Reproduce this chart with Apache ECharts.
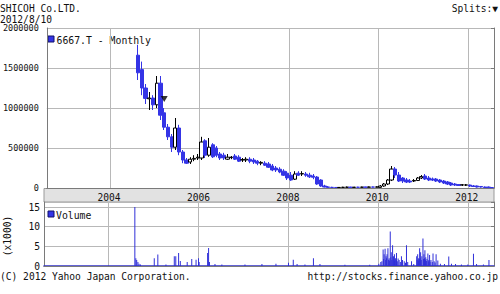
<!DOCTYPE html>
<html><head><meta charset="utf-8">
<script src="https://cdn.jsdelivr.net/npm/echarts@6/dist/echarts.min.js"></script>
<style>html,body{margin:0;padding:0;background:#fff}#c{width:500px;height:294px}</style>
</head><body><div id="c"></div>
<script>
const titleText = 'SHICOH Co.LTD.';
const dateText = '2012/8/10';
const splitsText = 'Splits:\u25BC';
const copyrightText = '(C) 2012 Yahoo Japan Corporation.';
const urlText = 'http://stocks.finance.yahoo.co.jp';
const seriesName = '6667.T - Monthly';
const volumeName = 'Volume';
const volumeUnit = '(x1000)';

const firstMonth = [2002, 8];
const monthCount = 120;
const candleStart = '2004-08';
const yearLabels = ['2004', '2006', '2008', '2010', '2012'];
const priceMax = 2000000, priceStep = 500000;
const volumeTicks = [0, 5, 10, 15];

const opens = [1660000,1480000,1250000,1115000,1125000,1040000,1310000,940000,760000,640000,510000,750000,
 450000,350000,325000,360000,375000,375000,590000,410000,540000,500000,425000,410000,
 360000,380000,400000,385000,350000,350000,360000,350000,335000,310000,310000,300000,
 275000,250000,235000,210000,185000,160000,110000,185000,175000,175000,160000,150000,
 137000,100000,25000,13000,8000,7000,6000,7500,9000,10000,8000,9500,
 9000,11000,10000,12000,11000,8000,25000,50000,100000,237000,162000,125000,
 100000,87000,87000,94000,125000,150000,125000,112000,112000,100000,87000,75000,
 62000,50000,43000,37000,37000,37000,25000,25000,19000,12000,12000,6000];
const closes = [1440000,1250000,1120000,1125000,1040000,1310000,910000,760000,640000,510000,750000,450000,
 350000,310000,360000,370000,385000,575000,410000,510000,390000,410000,375000,375000,
 385000,385000,360000,335000,355000,360000,335000,325000,310000,320000,285000,260000,
 225000,225000,200000,160000,125000,100000,175000,160000,180000,160000,140000,135000,
 50000,25000,12000,8000,7000,6000,7500,9000,10000,8000,9500,9000,
 11000,10000,12000,11000,13000,25000,50000,100000,237000,162000,87000,87000,
 75000,75000,94000,125000,143000,112000,100000,100000,87000,75000,62000,50000,
 37000,37000,31000,40000,38000,25000,19000,12000,12000,6000,5000,4000];
const lows = [1350000,1160000,1050000,975000,975000,1000000,850000,725000,600000,450000,475000,410000,
 310000,300000,300000,335000,350000,350000,375000,390000,375000,385000,350000,350000,
 350000,360000,350000,325000,325000,325000,310000,300000,285000,285000,275000,250000,
 210000,200000,185000,150000,100000,90000,100000,150000,150000,140000,125000,110000,
 40000,15000,8000,5000,4000,3500,4000,5000,6000,6000,6000,6000,
 7000,7000,8000,8000,8000,5000,15000,37000,87000,125000,75000,62000,
 62000,62000,75000,87000,112000,100000,87000,87000,75000,62000,50000,37000,
 25000,25000,25000,25000,25000,12000,12000,6000,5000,3000,2000,2000];
const highs = [1790000,1580000,1300000,1200000,1160000,1400000,1400000,1000000,800000,675000,875000,790000,
 475000,375000,385000,410000,425000,640000,610000,625000,560000,525000,450000,440000,
 425000,400000,425000,410000,375000,385000,385000,375000,350000,335000,335000,325000,
 300000,275000,260000,235000,210000,200000,210000,210000,210000,200000,190000,175000,
 150000,110000,40000,25000,15000,12000,12000,15000,18000,16000,14000,15000,
 16000,16000,18000,17000,20000,37000,62000,112000,275000,262000,200000,137000,
 125000,112000,112000,137000,162000,175000,150000,131000,125000,112000,100000,87000,
 75000,62000,50000,50000,50000,43000,37000,31000,25000,19000,19000,12000];

const splitMonths = ['2005-03'];
const splitPrices = [1112500];

const volDates = ['2004-08-05','2004-08-13','2004-08-20','2004-08-30','2004-09-08','2004-09-20',
 '2005-01-10','2005-02-08','2005-04-15','2005-06-22','2005-07-04','2005-07-27','2005-08-10',
 '2005-10-05','2005-11-11','2005-12-16','2006-01-05','2006-01-10','2006-03-20','2006-03-28',
 '2006-04-04','2006-05-19','2006-07-14','2007-01-18','2007-06-05','2007-09-27','2008-01-07',
 '2008-02-15','2008-03-17','2008-05-20','2008-07-28','2008-09-19','2009-04-10','2009-10-29',
 '2010-01-11','2010-01-27','2010-02-05','2010-02-15','2010-02-19','2010-02-23','2010-03-03',
 '2010-03-08','2010-03-11','2010-03-15','2010-03-19','2010-03-26','2010-03-30','2010-04-05',
 '2010-04-09','2010-04-14','2010-04-19','2010-04-22','2010-04-27','2010-05-03','2010-05-10',
 '2010-05-14','2010-05-18','2010-05-21','2010-05-26','2010-06-01','2010-06-04','2010-06-10',
 '2010-06-17','2010-06-25','2010-07-05','2010-07-14','2010-07-23','2010-08-06','2010-08-16',
 '2010-08-24','2010-09-03','2010-10-04','2010-10-22','2010-11-15','2010-11-19','2010-11-23',
 '2010-11-29','2010-12-01','2010-12-06','2010-12-09','2010-12-14','2010-12-17','2010-12-22',
 '2010-12-27','2011-01-05','2011-01-10','2011-01-13','2011-01-18','2011-01-21','2011-01-25',
 '2011-01-28','2011-02-02','2011-02-07','2011-02-14','2011-02-18','2011-02-22','2011-02-28',
 '2011-03-04','2011-03-11','2011-03-22','2011-03-28','2011-04-06','2011-04-14','2011-04-22',
 '2011-05-06','2011-05-27','2011-06-29','2011-08-03','2011-08-25','2011-09-27','2011-11-14',
 '2012-01-05','2012-02-20','2012-03-16','2012-05-11','2012-06-25'];
const volValues = [15.0,2.0,1.5,1.0,0.6,0.4,
 2.0,2.9,0.4,2.5,2.5,3.3,1.3,
 1.0,1.8,1.6,2.0,1.0,3.3,4.6,
 1.0,0.5,0.4,0.4,0.5,0.6,0.8,
 1.6,0.5,0.4,2.0,0.5,0.3,0.3,
 0.6,1.0,1.2,4.2,1.8,3.0,4.4,
 1.5,2.5,2.0,3.0,4.5,1.6,2.0,
 1.4,8.8,2.2,3.5,1.5,5.3,2.5,
 1.8,3.0,1.3,2.0,1.5,3.3,1.2,
 1.9,1.5,1.0,2.5,1.5,1.2,0.8,
 5.3,1.0,1.2,0.5,2.5,1.6,3.0,
 1.4,2.0,1.8,4.5,2.0,3.5,1.5,
 2.5,7.0,1.8,3.0,2.0,4.0,1.6,
 2.2,1.3,1.8,3.2,1.2,1.5,2.8,
 1.1,1.5,1.0,3.2,1.2,0.9,3.0,
 1.4,0.6,0.5,2.4,0.6,0.5,0.4,
 0.4,3.1,0.5,0.4,1.5];

// ---- build categories ----
const months = [];
for (let k = 0; k < monthCount; k++) {
  const m = firstMonth[1] - 1 + k;
  const y = firstMonth[0] + Math.floor(m / 12);
  months.push(y + '-' + String(m % 12 + 1).padStart(2, '0'));
}
const startIdx = months.indexOf(candleStart);
const candleData = months.map((m, k) => {
  const j = k - startIdx;
  return (j >= 0 && j < opens.length) ? [opens[j], closes[j], lows[j], highs[j]] : '-';
});
const volData = volDates.map((d, k) => [d, volValues[k]]);

const isHalfYear = (i) => { const mm = months[i].slice(5); return mm === '01' || mm === '07'; };
const isYearMark = (i) => months[i].slice(5) === '01' && yearLabels.indexOf(months[i].slice(0, 4)) >= 0;

const MONO = "'DejaVu Sans Mono', monospace";
const BLUE = '#3434e6';
const GRID = '#b8b8b8';
const BORDER = '#7a7a7a';

const L = 44, R = 6;
const chart = echarts.init(document.getElementById('c'), null, { renderer: 'svg' });

chart.setOption({
  animation: false,
  backgroundColor: '#fff',
  grid: [
    { left: L, right: R, top: 28, height: 160 },
    { left: L, right: R, top: 202, height: 64 }
  ],
  xAxis: [
    { type: 'category', gridIndex: 0, data: months, boundaryGap: true, position: 'bottom',
      axisLine: { lineStyle: { color: BORDER } },
      axisTick: { interval: isHalfYear, inside: false, length: 3, lineStyle: { color: BORDER } },
      axisLabel: { interval: isYearMark, formatter: v => v.slice(0, 4), margin: 4,
        fontFamily: MONO, fontSize: 9.6, color: '#111', padding: [0, 6, 0, 0] },
      splitLine: { show: true, interval: isYearMark, lineStyle: { color: GRID } } },
    { type: 'category', gridIndex: 0, data: months, boundaryGap: true, position: 'top',
      axisLine: { lineStyle: { color: BORDER } },
      axisTick: { interval: isHalfYear, inside: true, length: 3, lineStyle: { color: BORDER } },
      axisLabel: { show: false }, splitLine: { show: false } },
    { type: 'category', gridIndex: 1, data: months, boundaryGap: true, position: 'bottom',
      axisLine: { lineStyle: { color: '#3030c8', width: 1.5 } },
      axisTick: { show: false }, axisLabel: { show: false },
      splitLine: { show: true, interval: isYearMark, lineStyle: { color: GRID } } },
    { type: 'category', gridIndex: 1, data: months, boundaryGap: true, position: 'top',
      axisLine: { lineStyle: { color: BORDER } },
      axisTick: { interval: isHalfYear, inside: true, length: 3, lineStyle: { color: BORDER } },
      axisLabel: { show: false }, splitLine: { show: false } },
    { type: 'time', gridIndex: 1, show: false, min: '2002-08-01', max: '2012-08-01',
      splitLine: { show: false } }
  ],
  yAxis: [
    { type: 'value', gridIndex: 0, position: 'left', min: 0, max: priceMax, interval: priceStep,
      axisLine: { show: true, lineStyle: { color: BORDER } }, axisTick: { show: false },
      axisLabel: { formatter: v => String(v), margin: 8, fontFamily: MONO, fontSize: 8.5, color: '#111' },
      splitLine: { lineStyle: { color: GRID } } },
    { type: 'value', gridIndex: 0, position: 'right', min: 0, max: priceMax, interval: priceStep,
      axisLine: { show: true, lineStyle: { color: BORDER } },
      axisTick: { show: true, inside: true, length: 3, lineStyle: { color: BORDER } },
      axisLabel: { show: false }, splitLine: { show: false } },
    { type: 'value', gridIndex: 1, position: 'left', min: 0, max: 16.3, interval: 5,
      axisLine: { show: true, lineStyle: { color: BORDER } }, axisTick: { show: false },
      axisLabel: { formatter: v => (volumeTicks.indexOf(v) >= 0 ? String(v) : ''), margin: 4,
        fontFamily: MONO, fontSize: 9.6, color: '#111' },
      splitLine: { lineStyle: { color: GRID } } },
    { type: 'value', gridIndex: 1, position: 'right', min: 0, max: 16.3, interval: 5,
      axisLine: { show: true, lineStyle: { color: BORDER } },
      axisTick: { show: true, inside: true, length: 3, lineStyle: { color: BORDER } },
      axisLabel: { show: false }, splitLine: { show: false } }
  ],
  series: [
    { name: seriesName, type: 'candlestick', xAxisIndex: 0, yAxisIndex: 0, data: candleData,
      barWidth: 3.7, barMinWidth: 3,
      itemStyle: { color: '#ffffff', color0: BLUE, borderColor: '#000000', borderColor0: BLUE, borderWidth: 1 } },
    { name: 'split', type: 'scatter', xAxisIndex: 0, yAxisIndex: 0,
      data: splitMonths.map((m, k) => [m, splitPrices[k]]),
      symbol: 'triangle', symbolRotate: 180, symbolSize: [7, 6], itemStyle: { color: '#000' }, z: 5 },
    { name: volumeName, type: 'bar', xAxisIndex: 4, yAxisIndex: 2, data: volData,
      barWidth: 1, itemStyle: { color: '#2f2fd8' } }
  ],
  graphic: [
    { type: 'rect', z: -10, shape: { x: L, y: 188.5, width: 450, height: 13.5 },
      style: { fill: '#e2e2e2', stroke: '#9a9a9a', lineWidth: 1 } },
    { type: 'text', x: 0, y: 8, style: { text: titleText, font: '9.6px ' + MONO, fill: '#111', textVerticalAlign: 'middle', verticalAlign: 'middle' } },
    { type: 'text', x: 0, y: 19, style: { text: dateText, font: '9.6px ' + MONO, fill: '#111', textVerticalAlign: 'middle', verticalAlign: 'middle' } },
    { type: 'text', x: 498, y: 8, style: { text: splitsText, font: '9.6px ' + MONO, fill: '#111', align: 'right', textAlign: 'right', verticalAlign: 'middle', textVerticalAlign: 'middle' } },
    { type: 'text', x: 0, y: 276, style: { text: copyrightText, font: '9.6px ' + MONO, fill: '#111', verticalAlign: 'middle', textVerticalAlign: 'middle' } },
    { type: 'text', x: 498, y: 276, style: { text: urlText, font: '9.6px ' + MONO, fill: '#111', align: 'right', textAlign: 'right', verticalAlign: 'middle', textVerticalAlign: 'middle' } },
    { type: 'rect', shape: { x: 48, y: 36, width: 6, height: 6 }, style: { fill: BLUE, stroke: '#10106a', lineWidth: 1 } },
    { type: 'text', x: 56.5, y: 40.5, style: { text: seriesName, font: '9.8px ' + MONO, fill: '#111', verticalAlign: 'middle', textVerticalAlign: 'middle' } },
    { type: 'rect', shape: { x: 48, y: 211, width: 6, height: 6 }, style: { fill: BLUE, stroke: '#10106a', lineWidth: 1 } },
    { type: 'text', x: 56, y: 215.5, style: { text: volumeName, font: '9.8px ' + MONO, fill: '#111', verticalAlign: 'middle', textVerticalAlign: 'middle' } },
    { type: 'text', x: 7, y: 236, rotation: Math.PI / 2, style: { text: volumeUnit, font: '9.6px ' + MONO, fill: '#111', align: 'center', textAlign: 'center', verticalAlign: 'middle', textVerticalAlign: 'middle' } }
  ]
});
</script>
</body></html>
